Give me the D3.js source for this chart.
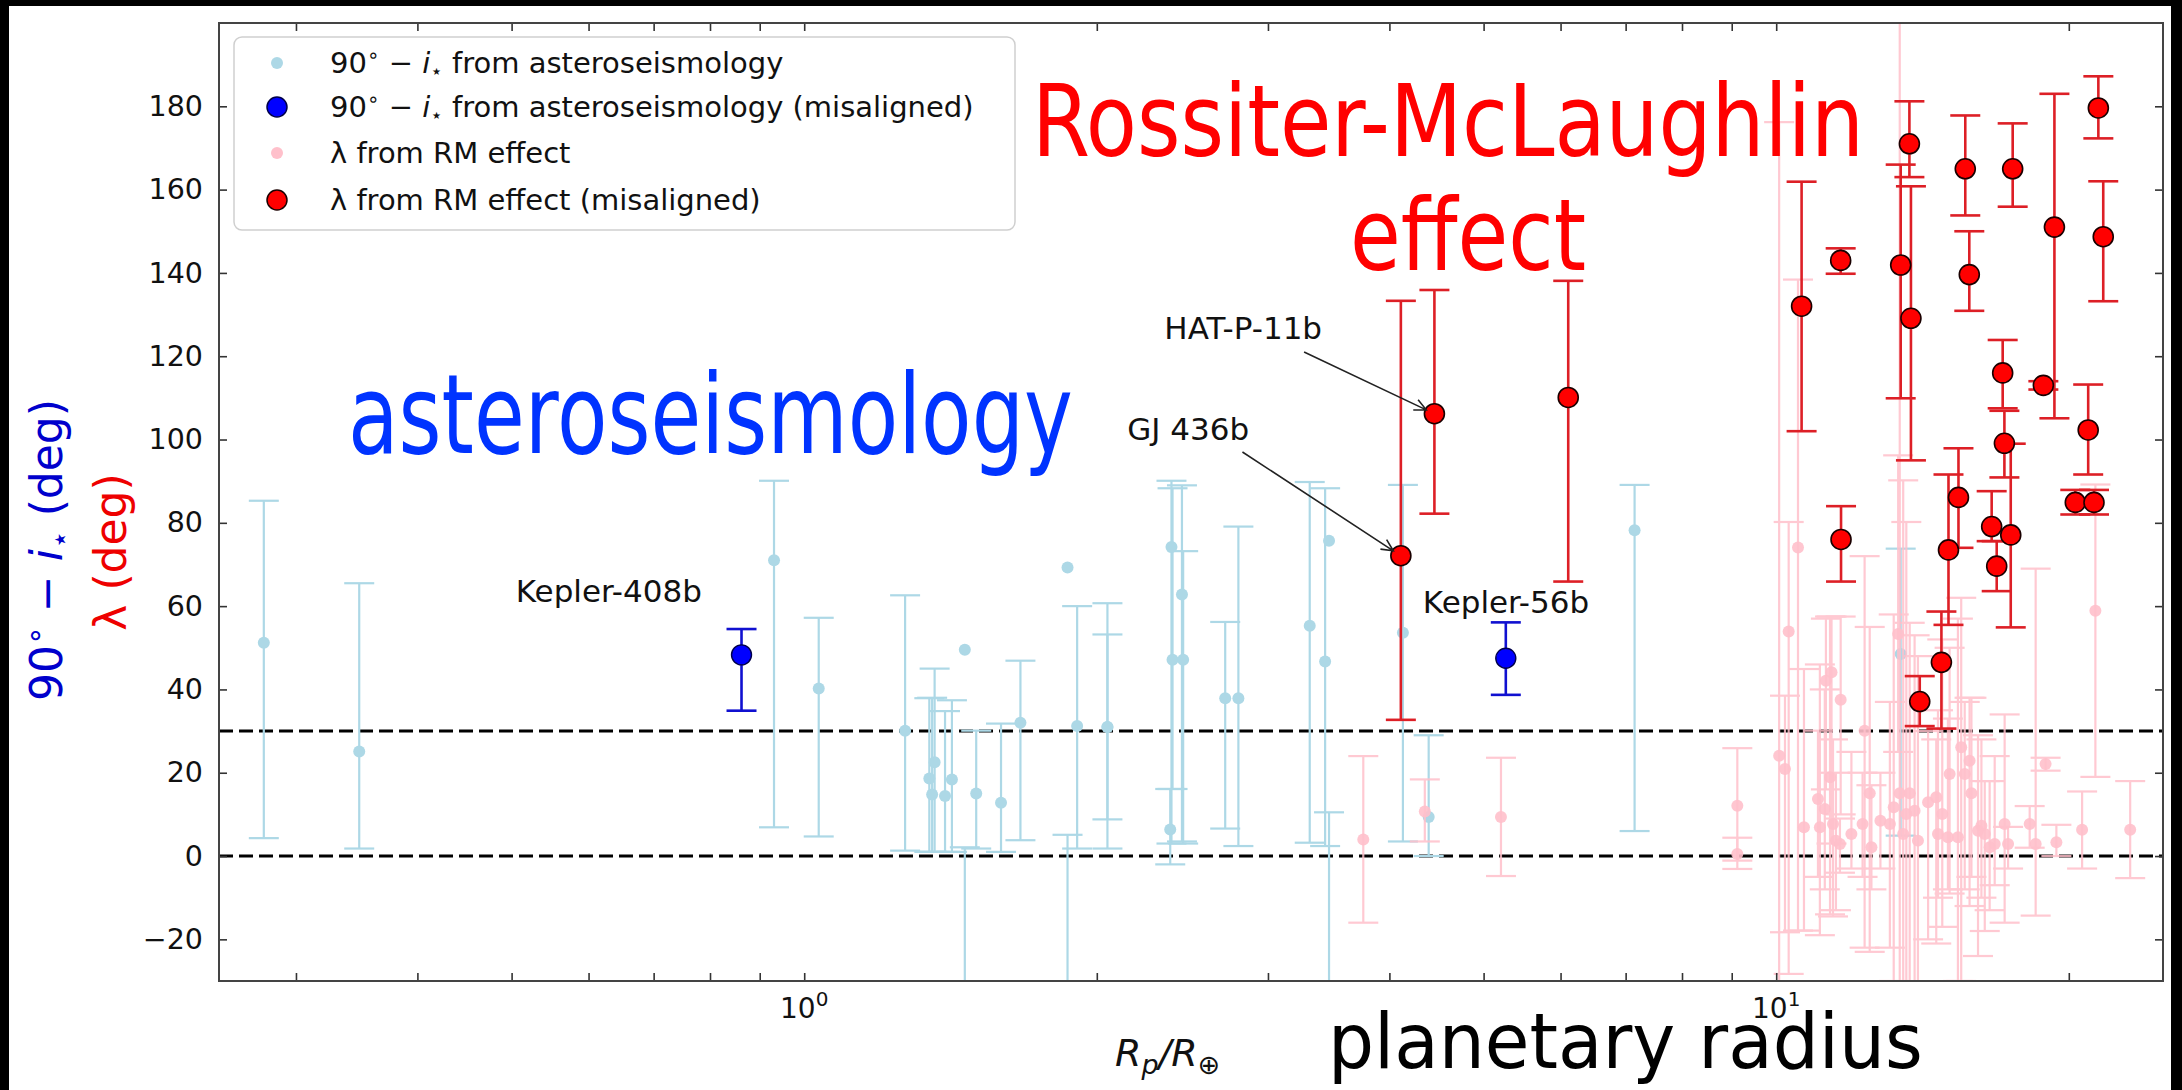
<!DOCTYPE html>
<html><head><meta charset="utf-8">
<script src="https://cdn.jsdelivr.net/npm/d3@7"></script>
<style>html,body{margin:0;padding:0;background:#000;} svg{display:block}</style>
</head><body>
<svg id="c" width="2182" height="1090"></svg>
<script>
// ---------------- DATA (Rp/R_earth, angle, lower end, upper end) ----------------
const asteroseismology = [
 [0.278, 51.2, 4.3, 85.3], [0.3485, 25.1, 1.8, 65.5], [0.931, 71.0, 6.9, 90.1],
 [1.035, 40.2, 4.7, 57.2], [1.270, 30.1, 1.3, 62.6], [1.362, 22.5, 1.0, 45.0],
 [1.345, 18.6, 1.0, 37.9], [1.354, 14.8, 1.0, 38.0], [1.396, 14.4, 1.0, 34.8],
 [1.419, 18.4, 1.0, 37.4], [1.463, 49.5, 49.5, 49.5], [1.463, -45, -80, 2.1],
 [1.503, 15.0, 1.8, 30.1], [1.594, 12.8, 1.0, 31.8], [1.669, 32.0, 3.8, 46.9],
 [1.866, 69.3, 69.3, 69.3], [1.866, -45, -80, 5.1], [1.909, 31.2, 1.8, 60.0],
 [2.051, 31.0, 1.8, 60.7], [2.051, 31.0, 8.8, 53.2], [2.387, 74.2, 3.0, 90.1],
 [2.447, 62.8, 3.5, 89.0], [2.393, 47.1, 16.1, 88.3], [2.454, 47.1, 3.0, 73.2],
 [2.380, 6.4, -2.0, 16.1], [2.711, 37.9, 6.6, 56.2], [2.797, 37.9, 2.4, 79.1],
 [3.312, 55.3, 3.2, 89.8], [3.435, 46.7, 2.4, 88.3], [3.467, 75.7, 75.7, 75.7],
 [3.467, -45, -80, 10.5], [4.13, 53.6, 3.5, 89.1], [4.39, 9.4, 0.0, 29.0],
 [7.15, 78.2, 6.0, 89.1], [13.43, 48.5, 4.9, 73.8]
];
const asteroMisaligned = [
 [0.862, 48.3, 34.9, 54.5], [5.27, 47.5, 38.7, 56.1]
];
const rmAligned = [
 [3.76, 4.0, -16.0, 24.0], [4.35, 10.7, 3.5, 18.4], [5.21, 9.4, -4.8, 23.6],
 [9.12, 12.1, -1.1, 25.9], [9.12, 0.5, -3.1, 4.4],
 [10.07, 24.1, -60, 176.2], [10.21, 20.9, -18.3, 38.5], [10.30, 53.9, -28.3, 80.2],
 [10.53, 74.1, -17.9, 138.4], [10.68, 6.9, -17.9, 44.9], [11.04, 13.7, -5.0, 30.1],
 [11.09, 6.9, -19.0, 46.0], [11.22, 11.3, -8.0, 40.0], [11.25, 42.1, 16.0, 57.0],
 [11.36, 18.9, -14.0, 57.5], [11.40, 44.1, 3.0, 57.5], [11.44, 7.7, -14.5, 28.0],
 [11.52, 3.7, -13.0, 20.0], [11.65, 37.5, 10.0, 57.5], [11.63, 2.9, -4.0, 9.0],
 [11.95, 5.3, -3.0, 25.0], [12.27, 7.7, -5.0, 20.0], [12.33, 30.1, -22.0, 72.0],
 [12.48, 15.1, -23.0, 55.0], [12.53, 2.1, -8.0, 17.0], [12.80, 8.5, -3.0, 20.0],
 [13.09, 7.7, -22.0, 37.0], [13.21, 11.7, -30.0, 58.0], [13.35, 53.3, 25.0, 96.2],
 [13.40, 15.1, -60, 230], [13.51, 5.3, -40, 90.2], [13.61, 10.1, -40, 80.2],
 [13.72, 15.1, -40, 56.0], [13.88, 10.9, -35, 53.0], [13.99, 3.7, -40, 48.0],
 [14.33, 12.9, -20, 30.0], [14.61, 14.1, -21, 28.0], [14.67, 5.3, -10, 35.0],
 [14.82, 10.1, -17, 52.0], [15.02, 4.5, -8, 33.0], [15.08, 19.7, -9, 50.0],
 [15.38, 4.5, -30, 57.0], [15.50, 26.1, -30, 62.0], [15.63, 19.7, -8, 37.0],
 [15.81, 22.9, -12, 38.0], [15.88, 15.1, -5, 38.0], [16.13, 6.1, -24, 29.0],
 [16.26, 7.3, -10, 28.0], [16.39, 5.3, -18, 18.0], [16.58, 2.1, -13, 18.0],
 [16.78, 2.9, -7, 24.0], [17.18, 7.7, -16, 34.0], [17.32, 2.9, -3, 7.0],
 [18.23, 7.7, 2.0, 12.0], [18.49, 2.9, -14.3, 69.0], [18.93, 22.1, 20.5, 23.6],
 [19.42, 3.3, 0.0, 7.5], [20.64, 6.3, -3.0, 15.5], [21.30, 58.9, 19.0, 89.2],
 [23.13, 6.3, -5.3, 18.0]
];
const rmMisaligned = [
 [4.11, 72.1, 32.7, 133.3], [4.45, 106.2, 82.2, 135.9], [6.11, 110.1, 65.9, 138.1],
 [10.62, 132.0, 102.0, 161.9], [11.65, 143.0, 139.8, 145.9], [11.66, 76.0, 65.9, 84.0],
 [13.71, 171.0, 163.0, 181.2], [13.43, 141.9, 109.9, 166.0], [13.76, 129.1, 95.0, 160.8],
 [14.05, 37.1, 31.2, 43.2], [14.79, 46.5, 30.6, 58.7], [15.04, 73.5, 55.5, 91.6],
 [15.40, 86.1, 74.0, 97.9], [15.65, 165.0, 153.8, 177.8], [15.80, 139.6, 130.9, 150.0],
 [17.51, 165.0, 155.9, 175.9], [16.66, 79.1, 75.6, 87.6], [16.86, 69.6, 63.6, 75.6],
 [17.10, 116.0, 107.5, 123.9], [17.17, 99.1, 90.9, 106.9], [17.43, 77.1, 54.9, 99.0],
 [18.83, 113.0, 112.0, 114.0], [19.33, 151.0, 105.1, 183.0], [20.94, 102.3, 91.6, 113.2],
 [20.31, 84.9, 82.0, 87.9], [21.23, 84.9, 82.0, 87.9], [21.45, 179.6, 172.3, 187.2],
 [21.70, 148.7, 133.2, 162.0]
];
// annotations: [label, text x, text y, arrow-from x, arrow-from y, target x, target y]
const annotations = [
 ["Kepler-408b", 0.505, 60.9, null, null, null, null],
 ["Kepler-56b", 4.33, 58.3, null, null, null, null],
 ["GJ 436b", 2.150, 100.0, 2.824, 97.0, 4.11, 72.1],
 ["HAT-P-11b", 2.347, 124.1, 3.268, 121.0, 4.45, 106.2]
];
const xMajorTicks = [1, 10];
const xMinorTicks = [0.3,0.4,0.5,0.6,0.7,0.8,0.9,2,3,4,5,6,7,8,9,20];
const yTicks = [-20,0,20,40,60,80,100,120,140,160,180];
const refLines = [0, 30];
const legendLabels = ["from asteroseismology", "from asteroseismology (misaligned)", "from RM effect", "from RM effect (misaligned)"];

// ---------------- LAYOUT ----------------
const W = 2182, H = 1090;
const L = 219, R = 2163, T = 23, B = 981;
const FONT = "DejaVu Sans, Verdana, sans-serif";
const svg = d3.select("#c");
svg.append("rect").attr("x", 9).attr("y", 6).attr("width", 2162).attr("height", H - 6).attr("fill", "#fff");

const x = d3.scaleLog().domain([0.25, 25]).range([L, R]);
const y = d3.scaleLinear().domain([-30, 200]).range([B, T]);

svg.append("clipPath").attr("id", "plotclip").append("rect")
  .attr("x", L).attr("y", T).attr("width", R - L).attr("height", B - T);

const plot = svg.append("g").attr("clip-path", "url(#plotclip)");

// reference dashed lines
plot.selectAll("line.ref").data(refLines).join("line")
  .attr("x1", L).attr("x2", R).attr("y1", d => y(d)).attr("y2", d => y(d))
  .attr("stroke", "#000").attr("stroke-width", 3).attr("stroke-dasharray", "14,6");

function errorbars(g, data, color, width, cap, opacity) {
  const gg = g.append("g").attr("stroke", color).attr("stroke-width", width).attr("opacity", opacity);
  data.filter(d => d[3] > d[2]).forEach(d => {
    const cx = x(d[0]);
    gg.append("line").attr("x1", cx).attr("x2", cx).attr("y1", y(d[2])).attr("y2", y(d[3]));
    gg.append("line").attr("x1", cx - cap).attr("x2", cx + cap).attr("y1", y(d[2])).attr("y2", y(d[2]));
    gg.append("line").attr("x1", cx - cap).attr("x2", cx + cap).attr("y1", y(d[3])).attr("y2", y(d[3]));
  });
}
function dots(g, data, fill, r, stroke, sw, opacity) {
  g.append("g").selectAll("circle").data(data).join("circle")
    .attr("cx", d => x(d[0])).attr("cy", d => y(d[1])).attr("r", r)
    .attr("fill", fill).attr("stroke", stroke || "none").attr("stroke-width", sw || 0)
    .attr("opacity", opacity);
}

errorbars(plot, asteroseismology, "#add8e6", 2.2, 15, 1);
dots(plot, asteroseismology, "#add8e6", 6, null, 0, 1);
errorbars(plot, rmAligned, "#ffc0cb", 2.2, 15, 0.85);
dots(plot, rmAligned, "#ffc0cb", 6, null, 0, 0.9);
errorbars(plot, rmMisaligned, "#dd1f26", 2.6, 15, 1);
dots(plot, rmMisaligned, "#ff0000", 10, "#1a0000", 1.6, 1);
errorbars(plot, asteroMisaligned, "#1010d0", 2.6, 15, 1);
dots(plot, asteroMisaligned, "#0000ff", 10, "#00004a", 1.4, 1);

// ---------------- AXES ----------------
const tickStyle = g => { g.select(".domain").remove(); g.selectAll(".tick line").attr("stroke", "#333").attr("stroke-width", 1.6); };
const allX = xMinorTicks.concat(xMajorTicks);
svg.append("g").attr("transform", `translate(0,${B})`)
  .call(d3.axisBottom(x).tickValues(allX).tickSizeInner(-8).tickSizeOuter(0).tickFormat(""))
  .call(tickStyle);
svg.append("g").attr("transform", `translate(0,${T})`)
  .call(d3.axisTop(x).tickValues(allX).tickSizeInner(-8).tickSizeOuter(0).tickFormat(""))
  .call(tickStyle);
svg.append("g").attr("transform", `translate(${R},0)`)
  .call(d3.axisRight(y).tickValues(yTicks).tickSizeInner(-8).tickSizeOuter(0).tickFormat(""))
  .call(tickStyle);
const gy = svg.append("g").attr("transform", `translate(${L},0)`)
  .call(d3.axisLeft(y).tickValues(yTicks).tickSizeInner(-8).tickSizeOuter(0).tickPadding(16))
  .call(tickStyle);
gy.selectAll(".tick text").attr("font-family", FONT).attr("font-size", 28.5).attr("fill", "#111");

// x major labels 10^k
const xl = svg.append("g");
xMajorTicks.forEach(v => {
  const t = xl.append("text").attr("x", x(v)).attr("y", 1018).attr("text-anchor", "middle")
    .attr("font-family", FONT).attr("font-size", 28).attr("fill", "#111");
  t.append("tspan").text("10");
  t.append("tspan").attr("dy", -12).attr("font-size", 20).text(String(Math.round(Math.log10(v))));
});

// frame
svg.append("rect").attr("x", L).attr("y", T).attr("width", R - L).attr("height", B - T)
  .attr("fill", "none").attr("stroke", "#444").attr("stroke-width", 2);

// y-axis labels (rotated)
const yl1 = svg.append("text").attr("transform", "translate(62,550) rotate(-90)")
  .attr("text-anchor", "middle").attr("font-family", FONT).attr("font-size", 44).attr("fill", "#0000cc");
yl1.append("tspan").text("90");
yl1.append("tspan").attr("dy", -17).attr("font-size", 30).text("\u2218");
yl1.append("tspan").attr("dy", 17).text(" \u2212 ");
yl1.append("tspan").attr("font-style", "italic").text("i");
yl1.append("tspan").attr("dy", 8).attr("font-size", 30).text("\u22c6");
yl1.append("tspan").attr("dy", -8).text(" (deg)");
svg.append("text").attr("transform", "translate(126,552) rotate(-90)")
  .attr("text-anchor", "middle").attr("font-family", FONT).attr("font-size", 44).attr("fill", "#ee0000")
  .text("\u03bb (deg)");

// x-axis label R_p/R_earth
const xlab = svg.append("text").attr("x", 1115).attr("y", 1066).attr("font-family", FONT)
  .attr("font-size", 38).attr("font-style", "italic").attr("fill", "#111");
xlab.append("tspan").text("R");
xlab.append("tspan").attr("dy", 8).attr("font-size", 27).text("p");
xlab.append("tspan").attr("dy", -8).text("/R");
xlab.append("tspan").attr("dy", 8).attr("font-size", 27).attr("font-style", "normal").text("\u2295");

// ---------------- LEGEND ----------------
const lg = svg.append("g");
lg.append("rect").attr("x", 234).attr("y", 37).attr("width", 781).attr("height", 193).attr("rx", 8)
  .attr("fill", "#fff").attr("fill-opacity", 0.85).attr("stroke", "#cfcfcf").attr("stroke-width", 1.5);
const legendRows = [63, 107, 153, 200];
const legendMarks = [["#add8e6", 6, "none"], ["#0000ff", 10, "#00004a"], ["#ffc0cb", 6, "none"], ["#ff0000", 10, "#1a0000"]];
legendLabels.forEach((lab, i) => {
  lg.append("circle").attr("cx", 277).attr("cy", legendRows[i]).attr("r", legendMarks[i][1])
    .attr("fill", legendMarks[i][0]).attr("stroke", legendMarks[i][2]).attr("stroke-width", 1.5);
  const t = lg.append("text").attr("x", 330).attr("y", legendRows[i] + 10)
    .attr("font-family", FONT).attr("font-size", 29).attr("fill", "#111");
  if (i < 2) {
    t.append("tspan").text("90");
    t.append("tspan").attr("dy", -11).attr("font-size", 20).text("\u2218");
    t.append("tspan").attr("dy", 11).text(" \u2212 ");
    t.append("tspan").attr("font-style", "italic").text("i");
    t.append("tspan").attr("dy", 5).attr("font-size", 20).text("\u22c6");
    t.append("tspan").attr("dy", -5).text(" " + lab);
  } else {
    t.text("\u03bb " + lab);
  }
});

// ---------------- ANNOTATIONS ----------------
const ag = svg.append("g");
annotations.forEach(a => {
  ag.append("text").attr("x", x(a[1])).attr("y", y(a[2])).attr("font-family", FONT)
    .attr("font-size", 31).attr("fill", "#111").text(a[0]);
  if (a[3] !== null) {
    const x0 = x(a[3]), y0 = y(a[4]), x1 = x(a[5]), y1 = y(a[6]);
    const ang = Math.atan2(y1 - y0, x1 - x0);
    const ex = x1 - 9 * Math.cos(ang), ey = y1 - 9 * Math.sin(ang);
    const hl = 13, ha = 0.45;
    ag.append("path").attr("fill", "none").attr("stroke", "#222").attr("stroke-width", 1.6)
      .attr("d", `M${x0},${y0}L${ex},${ey}M${ex - hl * Math.cos(ang - ha)},${ey - hl * Math.sin(ang - ha)}L${ex},${ey}L${ex - hl * Math.cos(ang + ha)},${ey - hl * Math.sin(ang + ha)}`);
  }
});

// ---------------- BIG OVERLAY TEXTS (horizontally condensed via scale) ----------------
function bigText(str, px, py, size, width, color, family) {
  const t = svg.append("text").attr("x", 0).attr("y", 0).attr("font-size", size)
    .attr("font-family", family).attr("fill", color).text(str);
  const w = t.node().getComputedTextLength();
  t.attr("transform", `translate(${px},${py}) scale(${width / w},1)`);
  return t;
}
const COND = "DejaVu Sans Condensed, DejaVu Sans, sans-serif";
bigText("asteroseismology", 348, 453, 110, 725, "#0033ff", FONT);
bigText("Rossiter-McLaughlin", 1032, 156, 99, 832, "#ff0000", COND);
bigText("effect", 1350, 270, 99, 236, "#ff0000", COND);
bigText("planetary radius", 1328, 1068, 76, 595, "#000", COND);
</script>
</body></html>
